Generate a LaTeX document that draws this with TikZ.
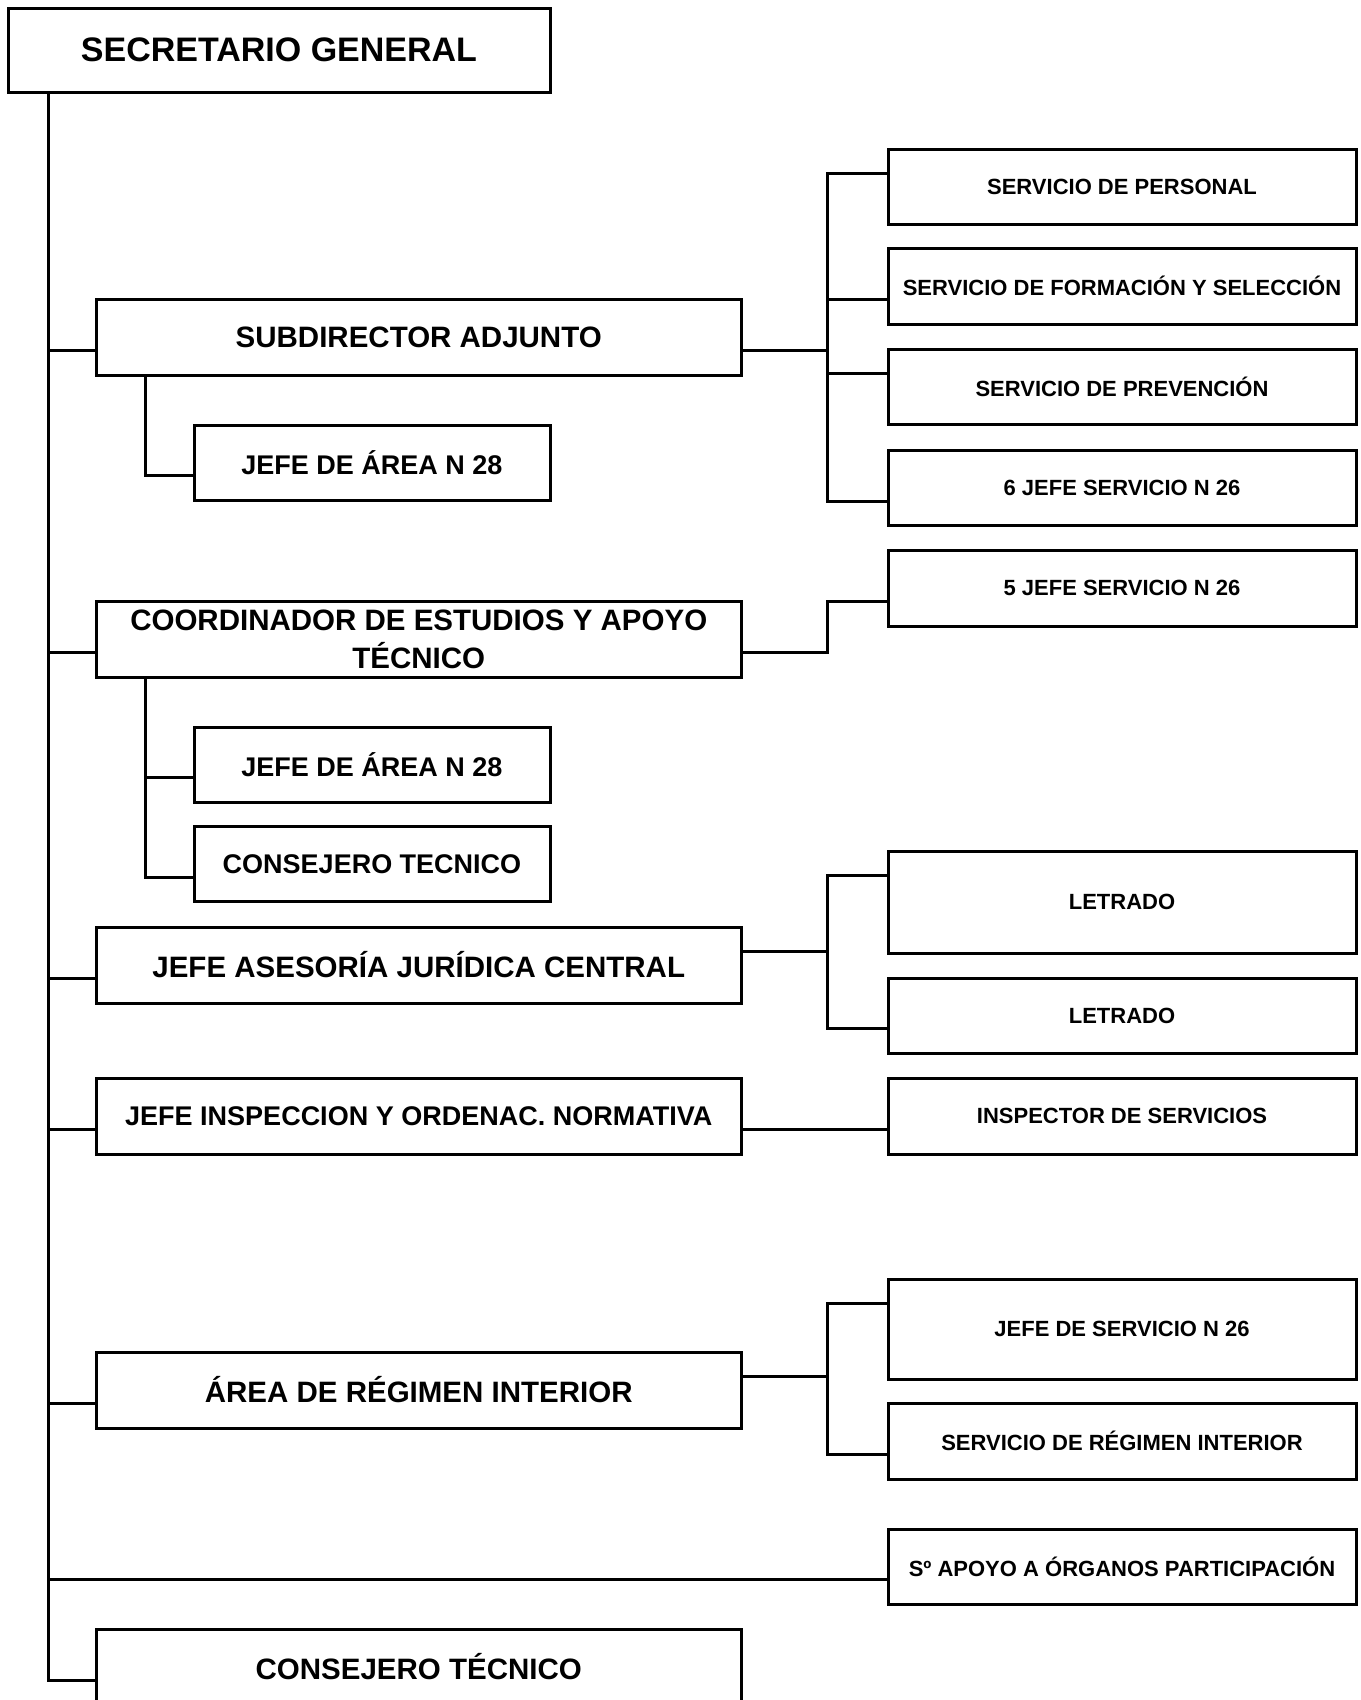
\documentclass[tikz,border=0pt]{standalone}
\usepackage{fontspec}
\setmainfont{Liberation Sans}
\usetikzlibrary{calc}
\begin{document}
\begin{tikzpicture}[x=1pt,y=-1pt,
  box/.style={draw=black, line width=3pt, fill=white, inner sep=0pt, align=center},
  top/.style={box, minimum width=542pt, minimum height=84pt, font=\fontsize{34}{40}\selectfont\bfseries},
  big/.style={box, minimum width=644.5pt, minimum height=76pt, font=\fontsize{29.5}{38}\selectfont\bfseries},
  small/.style={box, minimum width=356pt, minimum height=75pt, font=\fontsize{27}{32}\selectfont\bfseries},
  rbox/.style={box, minimum width=468pt, font=\fontsize{22}{26}\selectfont\bfseries},
  conn/.style={draw=black, line width=3pt, line cap=rect}]
\useasboundingbox (0,0) rectangle (1360,1700);
\fill[white] (0,0) rectangle (1360,1700);

% main column
\node[top] (sg) at (279,50) {SECRETARIO GENERAL};
\node[big] (sub) at (418.75,337) {SUBDIRECTOR ADJUNTO};
\node[small] (ja1) at (372,462.5) {JEFE DE ÁREA N 28};
\node[big] (coord) at (418.75,639) {COORDINADOR DE ESTUDIOS Y APOYO\\TÉCNICO};
\node[small] (ja2) at (372,764.5) {JEFE DE ÁREA N 28};
\node[small] (ct1) at (372,864) {CONSEJERO TECNICO};
\node[big] (ase) at (418.75,965) {JEFE ASESORÍA JURÍDICA CENTRAL};
\node[big, font=\fontsize{27}{32}\selectfont\bfseries] (insp) at (418.75,1116) {JEFE INSPECCION Y ORDENAC. NORMATIVA};
\node[big] (area) at (418.75,1390) {ÁREA DE RÉGIMEN INTERIOR};
\node[big] (ct2) at (418.75,1667) {CONSEJERO TÉCNICO};

% right column
\node[rbox, minimum height=75pt] (sp) at (1122,186.5) {SERVICIO DE PERSONAL};
\node[rbox, minimum height=76pt] (sf) at (1122,286) {SERVICIO DE FORMACIÓN Y SELECCIÓN};
\node[rbox, minimum height=75pt] (spv) at (1122,387) {SERVICIO DE PREVENCIÓN};
\node[rbox, minimum height=75pt] (j6) at (1122,488) {6 JEFE SERVICIO N 26};
\node[rbox, minimum height=76pt] (j5) at (1122,588) {5 JEFE SERVICIO N 26};
\node[rbox, minimum height=102pt] (let1) at (1122,902) {LETRADO};
\node[rbox, minimum height=75pt] (let2) at (1122,1015.5) {LETRADO};
\node[rbox, minimum height=76pt] (ins) at (1122,1116) {INSPECTOR DE SERVICIOS};
\node[rbox, minimum height=100pt] (jsv) at (1122,1329) {JEFE DE SERVICIO N 26};
\node[rbox, minimum height=76pt] (sri) at (1122,1441) {SERVICIO DE RÉGIMEN INTERIOR};
\node[rbox, minimum height=75pt] (apo) at (1122,1566.5) {Sº APOYO A ÓRGANOS PARTICIPACIÓN};

% reference x positions
\coordinate (spine) at (48.8,0);
\coordinate (sx) at (145.3,0);
\coordinate (bx) at (827.5,0);

% left attachment points
\foreach \n/\f in {sub/.667,coord/.667,ase/.667,insp/.667,area/.667,ct2/.667,
                   ja1/.667,ja2/.667,ct1/.667,
                   sp/.333,sf/.667,spv/.333,j6/.667,j5/.667,let1/.25,let2/.667,
                   ins/.667,jsv/.25,sri/.667,apo/.667}
  \coordinate (L-\n) at ($(\n.north west)!\f!(\n.south west)$);
% right attachment points
\foreach \n/\f in {sub/.667,coord/.667,ase/.333,insp/.667,area/.333}
  \coordinate (R-\n) at ($(\n.north east)!\f!(\n.south east)$);

% spine
\draw[conn] (sg.south -| spine) -- (L-ct2 -| spine);
\foreach \n in {sub,coord,ase,insp,area,ct2,apo}
  \draw[conn] (L-\n -| spine) -- (L-\n);

% sub-branches
\draw[conn] (sub.south -| sx) |- (L-ja1);
\draw[conn] (coord.south -| sx) |- (L-ct1);
\draw[conn] (L-ja2 -| sx) -- (L-ja2);

% subdirector bracket
\draw[conn] (R-sub) -- (R-sub -| bx);
\draw[conn] (L-sp -| bx) -- (L-j6 -| bx);
\foreach \n in {sp,sf,spv,j6}
  \draw[conn] (L-\n -| bx) -- (L-\n);

% coordinador
\draw[conn] (R-coord) -| (L-j5 -| bx) -- (L-j5);

% asesoria
\draw[conn] (R-ase) -- (R-ase -| bx);
\draw[conn] (L-let1 -| bx) -- (L-let2 -| bx);
\foreach \n in {let1,let2}
  \draw[conn] (L-\n -| bx) -- (L-\n);

% inspeccion
\draw[conn] (R-insp) -- (L-ins);

% area
\draw[conn] (R-area) -- (R-area -| bx);
\draw[conn] (L-jsv -| bx) -- (L-sri -| bx);
\foreach \n in {jsv,sri}
  \draw[conn] (L-\n -| bx) -- (L-\n);
\end{tikzpicture}
\end{document}
